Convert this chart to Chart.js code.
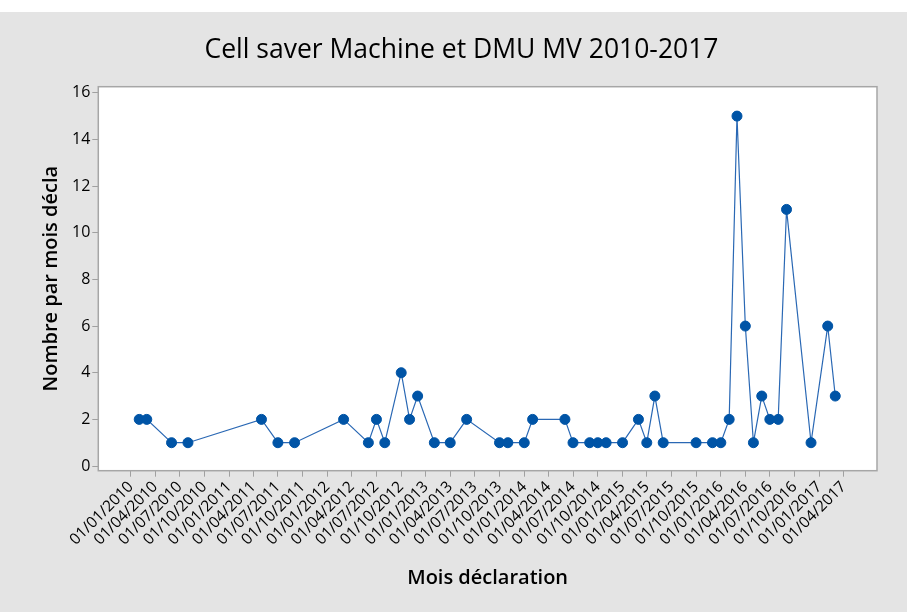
<!DOCTYPE html>
<html>
<head>
<meta charset="utf-8">
<script src="https://cdn.jsdelivr.net/npm/chart.js@4.4.0/dist/chart.umd.min.js"></script>
<style>
  body { margin: 0; background: #ffffff; }
  #frame { position: absolute; left: 0; top: 12px; width: 907px; height: 600px; background: #e4e4e4; }
</style>
</head>
<body>
<div id="frame"><canvas id="chart" width="907" height="600"></canvas></div>
<script>
// monthly declarations (first day of month)
const months = ['2010-02', '2010-03', '2010-06', '2010-08',
  '2011-05', '2011-07', '2011-09',
  '2012-03', '2012-06', '2012-07', '2012-08', '2012-10', '2012-11', '2012-12',
  '2013-02', '2013-04', '2013-06', '2013-10', '2013-11',
  '2014-01', '2014-02', '2014-06', '2014-07', '2014-09', '2014-10', '2014-11',
  '2015-01', '2015-03', '2015-04', '2015-05', '2015-06', '2015-10', '2015-12',
  '2016-01', '2016-02', '2016-03', '2016-04', '2016-05', '2016-06', '2016-07', '2016-08', '2016-09', '2016-12',
  '2017-02', '2017-03'];
const counts = [2, 2, 1, 1,
  2, 1, 1,
  2, 1, 2, 1, 4, 2, 3,
  1, 1, 2, 1, 1,
  1, 2, 2, 1, 1, 1, 1,
  1, 2, 1, 3, 1, 1, 1,
  1, 2, 15, 6, 1, 3, 2, 2, 11, 1,
  6, 3];

const xTickLabels = ['01/01/2010', '01/04/2010', '01/07/2010', '01/10/2010',
  '01/01/2011', '01/04/2011', '01/07/2011', '01/10/2011',
  '01/01/2012', '01/04/2012', '01/07/2012', '01/10/2012',
  '01/01/2013', '01/04/2013', '01/07/2013', '01/10/2013',
  '01/01/2014', '01/04/2014', '01/07/2014', '01/10/2014',
  '01/01/2015', '01/04/2015', '01/07/2015', '01/10/2015',
  '01/01/2016', '01/04/2016', '01/07/2016', '01/10/2016',
  '01/01/2017', '01/04/2017'];
const yTicks = [0, 2, 4, 6, 8, 10, 12, 14, 16];

const DAY = 86400000;
const origin = Date.UTC(2010, 0, 1);

/** days since 01/01/2010 for "YYYY-MM" */
function monthToDay(s) {
  const [y, m] = s.split('-').map(Number);
  return (Date.UTC(y, m - 1, 1) - origin) / DAY;
}

/** days since 01/01/2010 for "DD/MM/YYYY" */
function labelToDay(s) {
  const [d, m, y] = s.split('/').map(Number);
  return (Date.UTC(y, m - 1, d) - origin) / DAY;
}

const points = months.map((m, i) => ({ x: monthToDay(m), y: counts[i] }));
const xTickValues = xTickLabels.map(labelToDay);

// white plot area with grey frame
const plotBox = {
  id: 'plotBox',
  beforeDatasetsDraw(chart) {
    const { ctx, chartArea: a } = chart;
    ctx.save();
    ctx.fillStyle = '#ffffff';
    ctx.fillRect(a.left, a.top, a.right - a.left, a.bottom - a.top);
    ctx.restore();
  },
  afterDatasetsDraw(chart) {
    const { ctx, chartArea: a } = chart;
    ctx.save();
    ctx.strokeStyle = '#a6a6a6';
    ctx.lineWidth = 1.5;
    ctx.strokeRect(a.left, a.top, a.right - a.left, a.bottom - a.top);
    ctx.restore();
  }
};

const font = "'Open Sans', 'Noto Sans', sans-serif";

new Chart(document.getElementById('chart'), {
  type: 'line',
  data: {
    datasets: [{
      data: points,
      borderColor: '#2a68b4',
      borderWidth: 1.2,
      pointRadius: 5,
      pointBackgroundColor: '#0054a6',
      pointBorderColor: '#0054a6',
      pointBorderWidth: 1,
      tension: 0
    }]
  },
  options: {
    responsive: false,
    devicePixelRatio: 1,
    animation: false,
    layout: { padding: { left: 46, right: 30, top: 0, bottom: 0 } },
    plugins: {
      legend: { display: false },
      tooltip: { enabled: false },
      title: {
        display: true,
        text: 'Cell saver Machine et DMU MV 2010-2017',
        color: '#000000',
        font: { family: font, size: 26.5, weight: 'normal' },
        padding: { top: 22.2, bottom: 20.7 }
      }
    },
    scales: {
      x: {
        type: 'linear',
        min: -121,
        max: 2771,
        afterBuildTicks: scale => { scale.ticks = xTickValues.map(v => ({ value: v })); },
        afterFit: scale => { scale.height = 141.3; },
        ticks: {
          autoSkip: false,
          minRotation: 45,
          maxRotation: 45,
          padding: 1,
          color: '#000000',
          font: { family: font, size: 15.5 },
          callback: (value, index) => xTickLabels[index]
        },
        grid: { drawOnChartArea: false, drawTicks: true, tickLength: 6, color: '#a0a0a0' },
        border: { display: false },
        title: {
          display: true,
          text: 'Mois déclaration',
          color: '#000000',
          font: { family: font, size: 20, weight: 600 },
          padding: { top: 0, bottom: 22 }
        }
      },
      y: {
        min: -0.2,
        max: 16.26,
        afterBuildTicks: scale => { scale.ticks = yTicks.map(v => ({ value: v })); },
        afterFit: scale => { scale.width = 52.3; },
        ticks: {
          padding: 2,
          color: '#000000',
          font: { family: font, size: 16 }
        },
        grid: { drawOnChartArea: false, drawTicks: true, tickLength: 6, color: '#a0a0a0' },
        border: { display: false },
        title: {
          display: true,
          text: 'Nombre par mois décla',
          color: '#000000',
          font: { family: font, size: 20, weight: 600 },
          padding: { top: -6.3, bottom: 0 }
        }
      }
    }
  },
  plugins: [plotBox]
});
</script>
</body>
</html>
